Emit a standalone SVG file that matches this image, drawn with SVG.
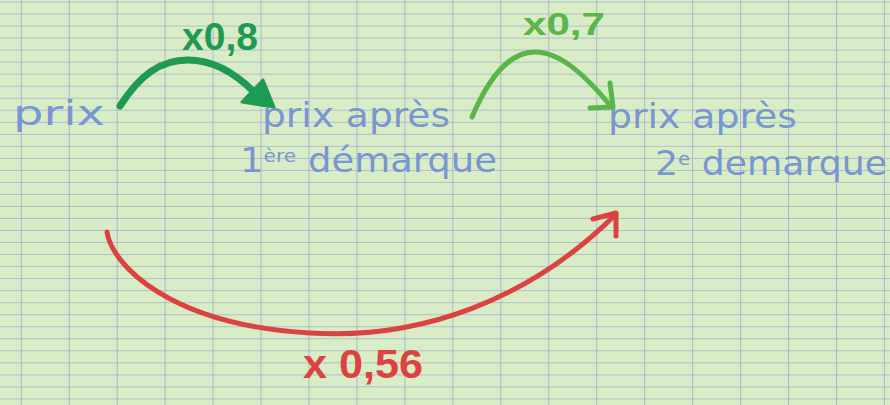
<svg xmlns="http://www.w3.org/2000/svg" width="890" height="405" viewBox="0 0 890 405">
  <defs>
    <pattern id="grid" patternUnits="userSpaceOnUse" x="20.8" y="1.5" width="47.95" height="12.03">
      <rect width="47.95" height="12.03" fill="#d8edc5"/>
      <line x1="0" y1="0" x2="47.95" y2="0" stroke="#a3a9d6" stroke-width="1.3"/>
      <line x1="0" y1="0" x2="0" y2="12.03" stroke="#9ca2d4" stroke-width="1.4"/>
    </pattern>
  </defs>
  <style>
    .hw { font-family: "DejaVu Sans", "Liberation Sans", sans-serif; fill: #7896d2; font-size: 33px; }
    .lbl { font-family: "Liberation Sans", Arial, sans-serif; font-weight: bold; }
    .c { fill: none; stroke-linecap: round; stroke-linejoin: round; }
  </style>
  <rect width="890" height="405" fill="url(#grid)"/>

  <g id="node-prix">
    <text class="hw" x="13" y="125" textLength="92" lengthAdjust="spacingAndGlyphs">prix</text>
  </g>
  <g id="node-prix-1">
    <text class="hw" x="262" y="127" textLength="188" lengthAdjust="spacingAndGlyphs">prix après</text>
    <text class="hw" x="240" y="172" textLength="257" lengthAdjust="spacingAndGlyphs">1<tspan font-size="18" dy="-10">ère</tspan><tspan dy="10"> démarque</tspan></text>
  </g>
  <g id="node-prix-2">
    <text class="hw" x="608" y="128" textLength="189" lengthAdjust="spacingAndGlyphs">prix après</text>
    <text class="hw" x="655" y="175" textLength="232" lengthAdjust="spacingAndGlyphs">2<tspan font-size="18" dy="-10">e</tspan><tspan dy="10"> demarque</tspan></text>
  </g>

  <g id="connectors">
    <g id="c1">
      <path class="c" d="M120,106 C140,75 160,60 188,60 C215,60 236,74 254,92" stroke="#1f9a52" stroke-width="7"/>
      <polygon points="263,80 242,102 274,107" fill="#1f9a52" stroke="#1f9a52" stroke-width="3" stroke-linejoin="round"/>
      <text class="lbl" x="182" y="50" font-size="38" fill="#1f9a52" textLength="76" lengthAdjust="spacingAndGlyphs">x0,8</text>
    </g>
    <g id="c2">
      <path class="c" d="M472,117 C490,75 510,52 535,52 C560,52 585,75 609,104" stroke="#5cb548" stroke-width="5"/>
      <polyline class="c" points="610,83 613,107 590,108" stroke="#5cb548" stroke-width="5"/>
      <text class="lbl" x="523" y="35" font-size="32" fill="#5cb548" textLength="82" lengthAdjust="spacingAndGlyphs">x0,7</text>
    </g>
    <g id="c3">
      <path class="c" d="M107,232 C112,265 170,325 310,333 C420,340 530,300 616,214" stroke="#dc4242" stroke-width="5"/>
      <polyline class="c" points="593,219 616,213 616,236" stroke="#dc4242" stroke-width="5"/>
      <text class="lbl" x="303" y="378" font-size="40" fill="#dc4242" textLength="120" lengthAdjust="spacingAndGlyphs">x 0,56</text>
    </g>
  </g>
</svg>
